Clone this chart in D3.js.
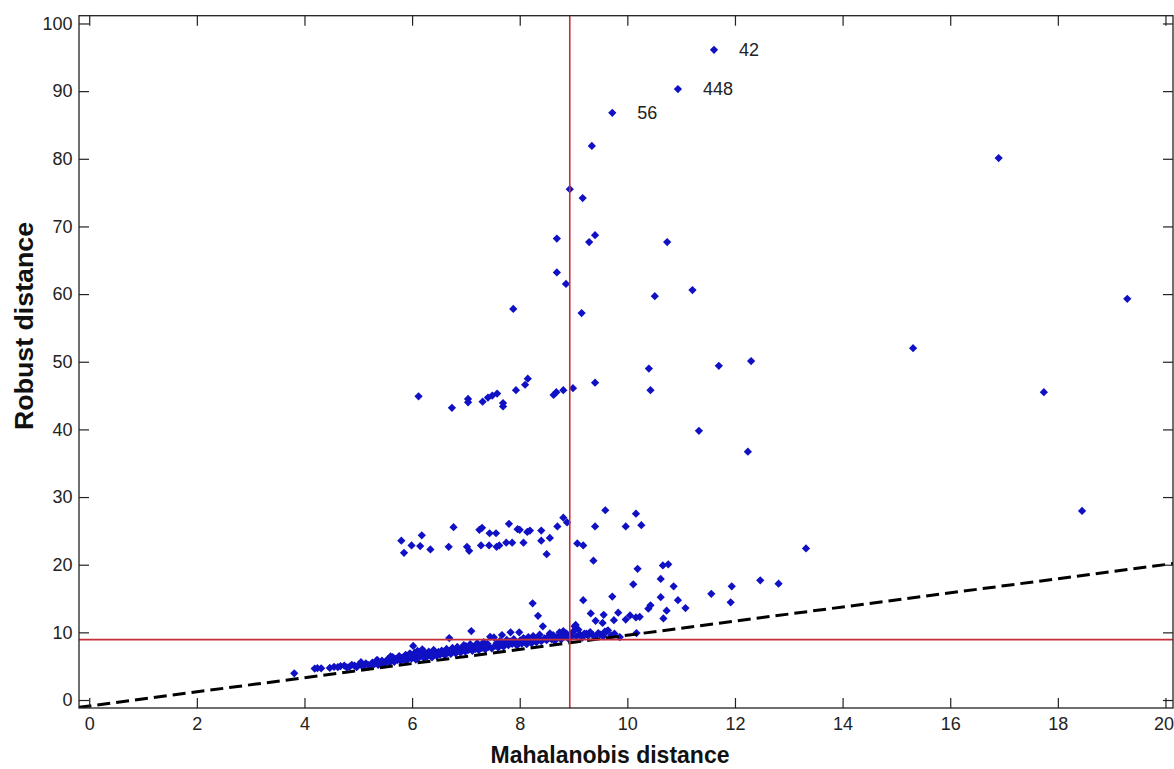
<!DOCTYPE html>
<html>
<head>
<meta charset="utf-8">
<script src="https://cdn.jsdelivr.net/npm/d3@7"></script>
<style>
body { margin: 0; background: #fff; }
svg { display: block; font-family: "Liberation Sans", Arial, sans-serif; }
.tick text { font-size: 18px; fill: #222; }
.tick line { stroke: #222; stroke-width: 1.2; }
</style>
</head>
<body>
<svg id="chart" width="1174" height="769"></svg>
<script>
// tick values
const xTicks = [0, 2, 4, 6, 8, 10, 12, 14, 16, 18, 20];
const yTicks = [0, 10, 20, 30, 40, 50, 60, 70, 80, 90, 100];

// cutoff lines and the dashed fit line (Mahalanobis, Robust)
const cutoff = 8.93;
const fitX = [-0.2, 20.2];
const fitY = [-1.09, 20.23];

// main band of points, close to the fit line
const bulk = [
  [3.81,3.95],[4.19,4.65],[4.24,4.7],[4.31,4.68],[4.47,4.75],[4.55,4.9],[4.62,4.85],[4.67,5.02],[4.74,5.1],[4.79,4.82],
  [4.84,4.95],[4.88,5.2],[4.93,5.08],[4.97,4.85],[5.02,5.3],[5.06,5.12],[5.1,5.0],[5.14,5.42],[5.18,5.21],[5.22,5.1],
  [5.26,5.52],[5.3,5.3],[5.33,5.66],[5.37,5.18],[5.41,5.45],[5.44,5.82],[5.48,5.32],
  [5.52,5.7],[5.55,6.05],[5.58,5.54],[5.61,5.88],[5.64,6.35],[5.67,5.65],[5.7,6.1],[5.73,5.92],[5.76,6.5],[5.79,5.75],
  [5.82,6.22],[5.85,6.0],[5.88,6.68],[5.9,5.85],[5.93,6.4],[5.96,6.9],[5.99,6.12],[6.02,8.0],[6.04,6.55],[6.07,5.98],
  [6.1,7.25],[6.13,6.32],[6.16,6.75],[6.19,7.5],[6.22,6.2],[6.25,6.95],[6.28,6.42],[6.31,7.15],[6.34,6.65],[6.37,6.3],
  [6.4,7.4],[6.43,6.85],[6.46,6.52],[6.49,7.1],
  [6.52,6.7],[6.55,7.3],[6.58,6.92],[6.61,6.6],[6.64,7.55],[6.67,7.05],[6.69,9.15],[6.72,6.82],[6.75,7.7],[6.78,7.2],
  [6.81,6.9],[6.84,7.85],[6.87,7.35],[6.9,7.02],[6.93,7.6],[6.96,8.1],[6.99,7.15],[7.02,7.75],[7.05,7.4],[7.08,8.25],
  [7.1,10.2],[7.12,7.28],[7.15,7.9],[7.18,7.55],[7.21,8.4],[7.24,7.38],[7.27,8.05],[7.3,7.7],[7.33,8.55],[7.36,7.5],
  [7.39,8.15],[7.42,7.85],[7.45,9.35],[7.48,7.65],
  [7.52,9.25],[7.54,8.0],[7.57,8.4],[7.6,7.75],[7.63,8.7],[7.66,8.15],[7.67,9.6],[7.7,7.9],[7.73,8.5],[7.76,8.9],
  [7.79,8.1],[7.82,8.65],[7.83,10.0],[7.86,8.3],[7.89,9.0],[7.92,8.45],[7.95,8.05],[7.99,10.0],[8.01,8.8],[8.04,8.35],
  [8.07,9.15],[8.1,8.6],[8.13,8.25],[8.16,9.3],[8.19,8.75],[8.22,8.4],[8.25,9.45],[8.28,8.9],[8.31,8.55],[8.34,9.2],
  [8.37,9.65],[8.4,8.7],[8.43,10.9],[8.46,9.1],
  [8.5,8.85],[8.53,9.4],[8.56,9.85],[8.59,9.0],[8.62,9.6],[8.65,8.75],[8.68,9.25],[8.71,9.25],[8.74,10.0],[8.77,8.95],
  [8.8,9.5],[8.81,10.2],[8.84,9.9],[8.87,9.8],[8.9,9.1],[8.93,9.65],[8.96,9.35],[8.99,10.1],
  [9.02,10.9],[9.05,9.4],[9.09,10.4],[9.12,9.7],[9.16,9.2],[9.2,9.8],[9.24,9.8],[9.27,9.5],[9.31,10.05],[9.36,9.6],
  [9.4,9.35],[9.46,9.9],[9.5,9.65],[9.55,9.4],[9.58,10.1],[9.61,10.1],[9.64,10.3],[9.7,9.55],[9.76,9.8],[9.86,9.3],
  [5.05,5.6],[5.35,5.95],[5.6,6.45],[5.95,6.65],[6.05,7.0],[6.3,6.9],[6.55,6.95],[6.8,7.45],[7.0,7.95],[7.2,7.7],
  [7.4,8.3],[7.65,8.55],[7.9,8.75],[8.15,9.0],[8.35,9.0],[8.6,9.35],[8.85,9.45]
];

// scattered points between the band and the 25 group
const spread = [
  [8.24,14.3],[8.34,12.45],[9.04,11.1],[9.18,14.75],[9.32,12.8],[9.41,11.7],[9.54,11.4],[9.56,12.6],[9.72,15.3],
  [9.75,11.8],[9.83,12.9],[9.97,11.9],[10.05,12.5],[10.11,17.1],[10.16,12.2],[10.17,9.9],[10.19,19.4],[10.23,12.3],
  [10.39,13.5],[10.43,14.0],[10.62,15.2],[10.62,17.9],[10.66,19.9],[10.67,12.05],[10.73,13.2],[10.76,20.05],
  [10.86,16.8],[10.94,14.75],[11.08,13.6],[11.56,15.7],[11.92,14.45],[11.94,16.8],[12.47,17.7],[12.81,17.2],
  [13.32,22.4],[9.37,20.6]
];

// group around 25
const group25 = [
  [5.80,23.55],[5.85,21.75],[5.99,22.85],[6.15,22.75],[6.18,24.35],[6.34,22.25],[6.68,22.65],[6.77,25.55],[7.02,22.65],
  [7.06,22.05],[7.25,25.15],[7.28,22.85],[7.30,25.45],[7.43,22.85],[7.44,24.65],[7.56,24.65],[7.57,22.65],[7.62,22.85],
  [7.75,23.25],[7.80,26.05],[7.86,23.25],[7.96,25.25],[8.0,25.15],[8.07,23.25],[8.14,24.85],[8.19,25.05],[8.40,25.05],
  [8.40,23.55],[8.50,21.55],[8.56,23.95],[8.70,25.65],[8.81,26.95],[8.88,26.25],[9.07,23.15],[9.18,22.85],[9.40,25.65],
  [9.59,28.05],[9.97,25.65],[10.16,27.55],[10.26,25.85]
];

// group around 45
const group45 = [
  [6.12,44.9],[6.74,43.2],[7.04,44.5],[7.04,44.0],[7.31,44.1],[7.41,44.7],[7.49,45.0],[7.58,45.3],[7.69,43.9],
  [7.69,43.4],[7.93,45.8],[8.10,46.6],[8.15,47.5],[8.63,45.1],[8.68,45.5],[8.81,45.8],[8.99,46.1],[9.40,46.9]
];

// far outliers
const outliers = [
  [7.88,57.8],[8.86,61.5],[9.15,57.2],[10.51,59.7],[11.21,60.6],[10.40,49.0],[10.43,45.8],[11.70,49.4],[12.3,50.1],
  [11.33,39.8],[12.24,36.7],[15.31,52.0],[17.74,45.5],[18.45,27.95],[16.9,80.1],[19.29,59.3],
  [8.69,68.2],[8.69,63.2],[9.29,67.7],[9.40,68.7],[10.74,67.7],[8.93,75.5],[9.17,74.2],[9.34,81.9]
];

// labelled observations
const labelled = [[9.72,86.8],[10.94,90.3],[11.61,96.1]];
const labelText = ["56", "448", "42"];

const svg = d3.select("#chart"),
  margin = { top: 15.7, right: 1, bottom: 61, left: 79 },
  width = +svg.attr("width") - margin.left - margin.right,
  height = +svg.attr("height") - margin.top - margin.bottom;

svg.append("rect").attr("width", 1174).attr("height", 769).attr("fill", "#fff");

const g = svg.append("g")
  .attr("transform", `translate(${margin.left},${margin.top})`);

const x = d3.scaleLinear().domain([-0.19, 20.14]).range([0, width]);
const y = d3.scaleLinear().domain([-1.18, 101.15]).range([height, 0]);

g.append("clipPath").attr("id", "plot-clip")
  .append("rect").attr("width", width).attr("height", height);

// points
const allPoints = bulk.concat(spread, group25, group45, outliers, labelled);
const marker = d3.symbol().type(d3.symbolSquare).size(34);

g.append("g")
  .attr("clip-path", "url(#plot-clip)")
  .selectAll("path")
  .data(allPoints)
  .join("path")
  .attr("d", marker)
  .attr("transform", d => `translate(${x(d[0])},${y(d[1])}) rotate(45)`)
  .attr("fill", "#1010c4");

// dashed fit line
g.append("path")
  .attr("clip-path", "url(#plot-clip)")
  .attr("d", d3.line()(fitX.map((v, i) => [x(v), y(fitY[i])])))
  .attr("fill", "none")
  .attr("stroke", "#000")
  .attr("stroke-width", 3)
  .attr("stroke-dasharray", "13,6");

// cutoff lines
g.append("line")
  .attr("x1", x(cutoff)).attr("x2", x(cutoff))
  .attr("y1", 0).attr("y2", height)
  .attr("stroke", "#c4303a").attr("stroke-width", 1.6);
g.append("line")
  .attr("x1", 0).attr("x2", width)
  .attr("y1", y(cutoff)).attr("y2", y(cutoff))
  .attr("stroke", "#c4303a").attr("stroke-width", 1.6);

// labels next to the biggest robust distances
g.append("g")
  .selectAll("text")
  .data(labelled)
  .join("text")
  .attr("x", d => x(d[0]) + 25)
  .attr("y", d => y(d[1]))
  .attr("dy", "0.35em")
  .attr("font-size", 18)
  .attr("fill", "#222")
  .text((d, i) => labelText[i]);

// axes, ticks pointing inwards
g.append("g")
  .attr("transform", `translate(0,${height})`)
  .call(d3.axisBottom(x).tickValues(xTicks).tickSize(-10).tickPadding(9))
  .call(a => a.select(".domain").remove())
  // keep the last label inside the page edge
  .call(a => a.selectAll(".tick:last-of-type text").attr("x", -2));
g.append("g")
  .call(d3.axisTop(x).tickValues(xTicks).tickSize(-10).tickFormat(""))
  .call(a => a.select(".domain").remove());
g.append("g")
  .call(d3.axisLeft(y).tickValues(yTicks).tickSize(-10).tickPadding(6.5))
  .call(a => a.select(".domain").remove());
g.append("g")
  .attr("transform", `translate(${width},0)`)
  .call(d3.axisRight(y).tickValues(yTicks).tickSize(-10).tickFormat(""))
  .call(a => a.select(".domain").remove());

g.append("rect")
  .attr("width", width).attr("height", height)
  .attr("fill", "none")
  .attr("stroke", "#222")
  .attr("stroke-width", 1.3);

// axis titles
svg.append("text")
  .attr("x", 610)
  .attr("y", 763)
  .attr("text-anchor", "middle")
  .attr("font-size", 23)
  .attr("font-weight", "bold")
  .attr("fill", "#111")
  .text("Mahalanobis distance");

svg.append("text")
  .attr("transform", "translate(33,326) rotate(-90)")
  .attr("text-anchor", "middle")
  .attr("font-size", 25)
  .attr("font-weight", "bold")
  .attr("fill", "#111")
  .attr("textLength", 208)
  .attr("lengthAdjust", "spacingAndGlyphs")
  .text("Robust distance");
</script>
</body>
</html>
